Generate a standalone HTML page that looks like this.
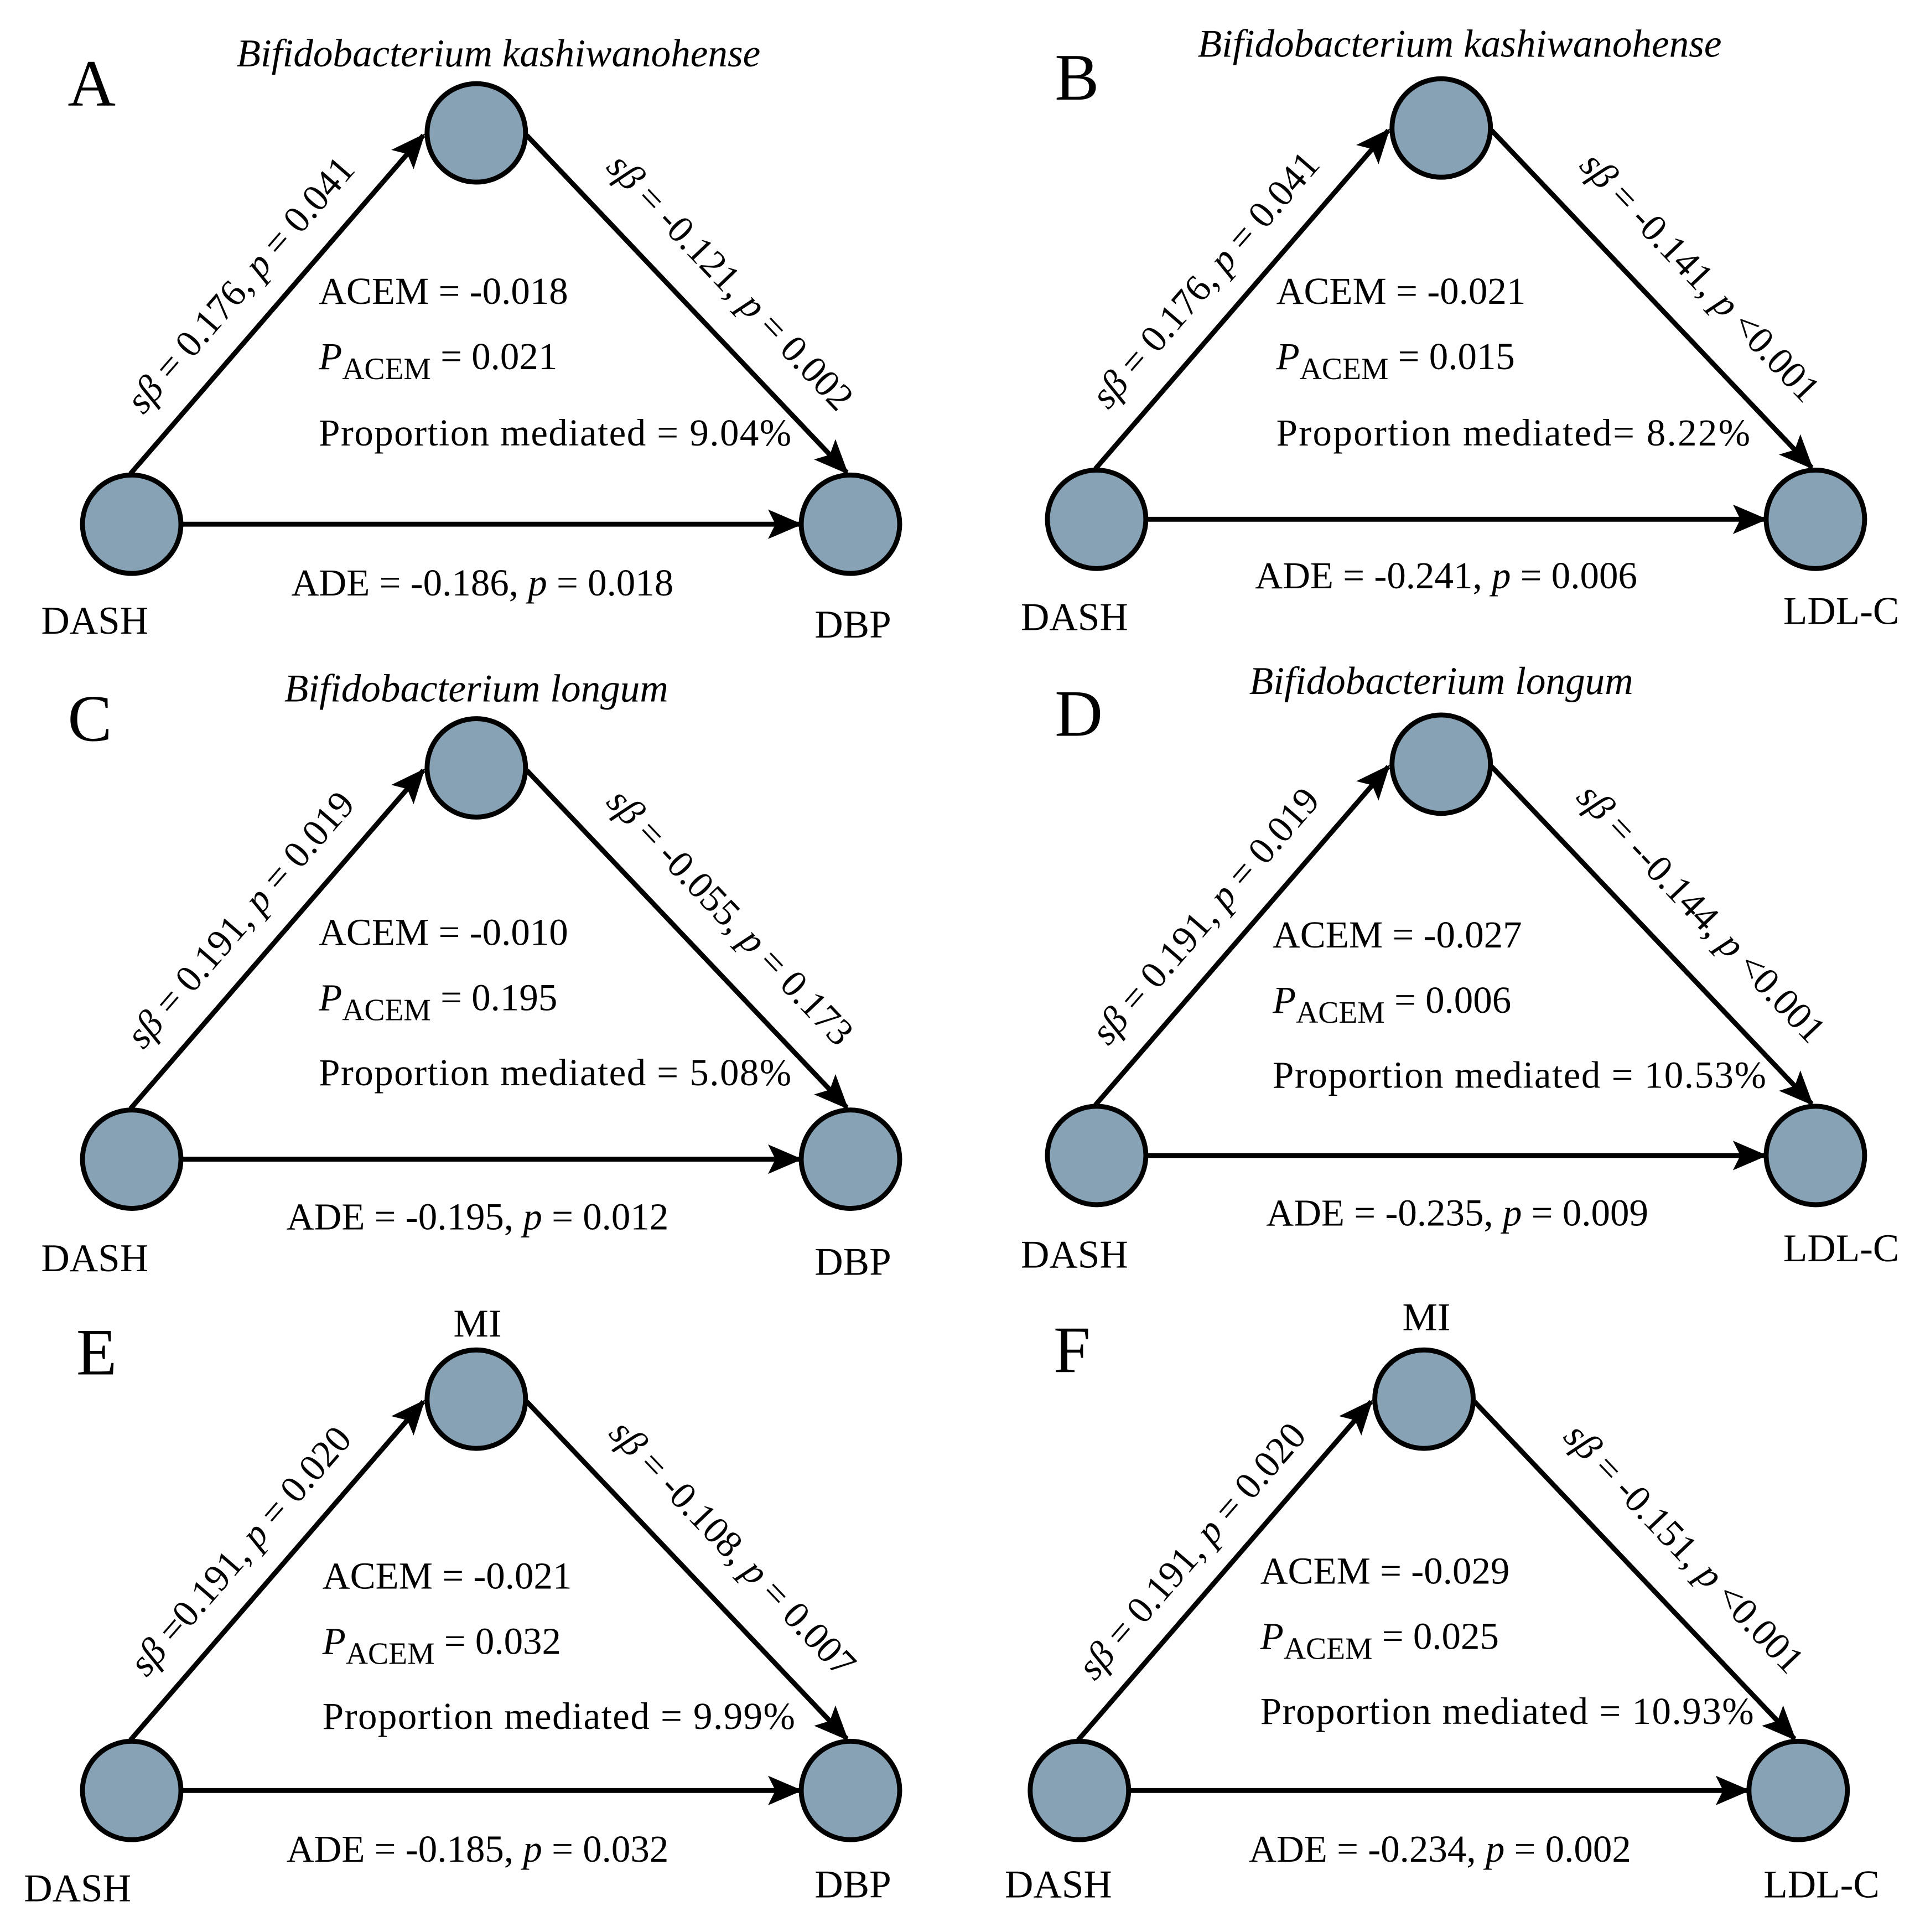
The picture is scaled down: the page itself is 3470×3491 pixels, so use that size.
<!DOCTYPE html>
<html><head><meta charset="utf-8"><style>
html,body{margin:0;padding:0;background:#fff}
svg{display:block}
text{font-family:"Liberation Serif",serif;fill:#000}
</style></head><body>
<svg width="3470" height="3491" viewBox="0 0 1560 1570" preserveAspectRatio="none" xmlns="http://www.w3.org/2000/svg">
<defs>
<marker id="ah" markerUnits="userSpaceOnUse" markerWidth="30" markerHeight="24" refX="26" refY="12" orient="auto">
<path d="M0,0 L28,12 L0,24 L6,12 Z" fill="#000"/>
</marker>
<g id="tri">
<line x1="106" y1="385" x2="344" y2="110" stroke="#000" stroke-width="4" marker-end="url(#ah)"/>
<line x1="428" y1="110" x2="688" y2="384" stroke="#000" stroke-width="4" marker-end="url(#ah)"/>
<line x1="147" y1="426" x2="650" y2="426" stroke="#000" stroke-width="4" marker-end="url(#ah)"/>
<circle cx="387" cy="108" r="40" fill="#87a2b4" stroke="#000" stroke-width="4"/>
<circle cx="107" cy="426" r="40" fill="#87a2b4" stroke="#000" stroke-width="4"/>
<circle cx="691" cy="426" r="40" fill="#87a2b4" stroke="#000" stroke-width="4"/>
</g>
</defs>

<!-- A -->
<g>
<use href="#tri"/>
<text x="55" y="86" font-size="54">A</text>
<text x="405" y="54" font-size="32" font-style="italic" text-anchor="middle">Bifidobacterium kashiwanohense</text>
<text x="203" y="238" font-size="31" text-anchor="middle" transform="rotate(-49 203 238)"><tspan font-style="italic">sβ</tspan> = 0.176, <tspan font-style="italic">p</tspan> = 0.041</text>
<text x="586" y="236" font-size="31" text-anchor="middle" transform="rotate(46.5 586 236)"><tspan font-style="italic">sβ</tspan> = -0.121, <tspan font-style="italic">p</tspan> = 0.002</text>
<text x="259" y="247" font-size="31">ACEM = -0.018</text>
<text x="259" y="300" font-size="31"><tspan font-style="italic">P</tspan><tspan font-size="25" dy="8">ACEM</tspan><tspan dy="-8"> = 0.021</tspan></text>
<text x="259" y="362" font-size="31" textLength="384" lengthAdjust="spacing">Proportion mediated =  9.04%</text>
<text x="392" y="484" font-size="31" text-anchor="middle">ADE = -0.186, <tspan font-style="italic">p</tspan> = 0.018</text>
<text x="77" y="515" font-size="32" text-anchor="middle">DASH</text>
<text x="693" y="518" font-size="32" text-anchor="middle">DBP</text>
</g>

<!-- B -->
<g transform="translate(784,-4)">
<use href="#tri"/>
<text x="73" y="85" font-size="54">B</text>
<text x="402" y="50" font-size="32" font-style="italic" text-anchor="middle">Bifidobacterium kashiwanohense</text>
<text x="203" y="238" font-size="31" text-anchor="middle" transform="rotate(-49 203 238)"><tspan font-style="italic">sβ</tspan> = 0.176, <tspan font-style="italic">p</tspan> = 0.041</text>
<text x="590" y="236" font-size="31" text-anchor="middle" transform="rotate(46.5 590 236)"><tspan font-style="italic">sβ</tspan> = -0.141, <tspan font-style="italic">p</tspan> &lt;0.001</text>
<text x="253" y="251" font-size="31">ACEM = -0.021</text>
<text x="253" y="304" font-size="31"><tspan font-style="italic">P</tspan><tspan font-size="25" dy="8">ACEM</tspan><tspan dy="-8"> = 0.015</tspan></text>
<text x="253" y="366" font-size="31" textLength="385" lengthAdjust="spacing">Proportion  mediated=  8.22%</text>
<text x="391" y="482" font-size="31" text-anchor="middle">ADE = -0.241, <tspan font-style="italic">p</tspan> = 0.006</text>
<text x="89" y="516" font-size="32" text-anchor="middle">DASH</text>
<text x="712" y="511" font-size="32" text-anchor="middle">LDL-C</text>
</g>

<!-- C -->
<g transform="translate(0,516)">
<use href="#tri"/>
<text x="55" y="86" font-size="54">C</text>
<text x="387" y="54" font-size="32" font-style="italic" text-anchor="middle">Bifidobacterium longum</text>
<text x="203" y="238" font-size="31" text-anchor="middle" transform="rotate(-49 203 238)"><tspan font-style="italic">sβ</tspan> = 0.191, <tspan font-style="italic">p</tspan> = 0.019</text>
<text x="586" y="236" font-size="31" text-anchor="middle" transform="rotate(46.5 586 236)"><tspan font-style="italic">sβ</tspan> = -0.055, <tspan font-style="italic">p</tspan> = 0.173</text>
<text x="259" y="252" font-size="31">ACEM = -0.010</text>
<text x="259" y="305" font-size="31"><tspan font-style="italic">P</tspan><tspan font-size="25" dy="8">ACEM</tspan><tspan dy="-8"> = 0.195</tspan></text>
<text x="259" y="366" font-size="31" textLength="384" lengthAdjust="spacing">Proportion mediated =  5.08%</text>
<text x="388" y="483" font-size="31" text-anchor="middle">ADE = -0.195, <tspan font-style="italic">p</tspan> = 0.012</text>
<text x="77" y="517" font-size="32" text-anchor="middle">DASH</text>
<text x="693" y="520" font-size="32" text-anchor="middle">DBP</text>
</g>

<!-- D -->
<g transform="translate(784,513)">
<use href="#tri"/>
<text x="73" y="85" font-size="54">D</text>
<text x="387" y="51" font-size="32" font-style="italic" text-anchor="middle">Bifidobacterium longum</text>
<text x="203" y="238" font-size="31" text-anchor="middle" transform="rotate(-49 203 238)"><tspan font-style="italic">sβ</tspan> = 0.191, <tspan font-style="italic">p</tspan> = 0.019</text>
<text x="591" y="236" font-size="31" text-anchor="middle" transform="rotate(46.5 591 236)"><tspan font-style="italic">sβ</tspan> = --0.144, <tspan font-style="italic">p</tspan> &lt;0.001</text>
<text x="250" y="257" font-size="31">ACEM = -0.027</text>
<text x="250" y="310" font-size="31"><tspan font-style="italic">P</tspan><tspan font-size="25" dy="8">ACEM</tspan><tspan dy="-8"> = 0.006</tspan></text>
<text x="250" y="371" font-size="31" textLength="401" lengthAdjust="spacing">Proportion mediated =  10.53%</text>
<text x="400" y="483" font-size="31" text-anchor="middle">ADE = -0.235, <tspan font-style="italic">p</tspan> = 0.009</text>
<text x="89" y="517" font-size="32" text-anchor="middle">DASH</text>
<text x="712" y="512" font-size="32" text-anchor="middle">LDL-C</text>
</g>

<!-- E -->
<g transform="translate(0,1029)">
<use href="#tri"/>
<text x="62" y="88" font-size="54">E</text>
<text x="388" y="57" font-size="32" text-anchor="middle">MI</text>
<text x="203" y="238" font-size="31" text-anchor="middle" transform="rotate(-49 203 238)"><tspan font-style="italic">sβ</tspan> =0.191, <tspan font-style="italic">p</tspan> = 0.020</text>
<text x="588" y="236" font-size="31" text-anchor="middle" transform="rotate(46.5 588 236)"><tspan font-style="italic">sβ</tspan> = -0.108, <tspan font-style="italic">p</tspan> = 0.007</text>
<text x="262" y="262" font-size="31">ACEM = -0.021</text>
<text x="262" y="315" font-size="31"><tspan font-style="italic">P</tspan><tspan font-size="25" dy="8">ACEM</tspan><tspan dy="-8"> = 0.032</tspan></text>
<text x="262" y="376" font-size="31" textLength="384" lengthAdjust="spacing">Proportion mediated =  9.99%</text>
<text x="388" y="484" font-size="31" text-anchor="middle">ADE = -0.185, <tspan font-style="italic">p</tspan> = 0.032</text>
<text x="63" y="516" font-size="32" text-anchor="middle">DASH</text>
<text x="693" y="513" font-size="32" text-anchor="middle">DBP</text>
</g>

<!-- F -->
<g transform="translate(770,1029)">
<use href="#tri"/>
<text x="86" y="86" font-size="54">F</text>
<text x="389" y="52" font-size="32" text-anchor="middle">MI</text>
<text x="206" y="238" font-size="31" text-anchor="middle" transform="rotate(-49 206 238)"><tspan font-style="italic">sβ</tspan> = 0.191, <tspan font-style="italic">p</tspan> = 0.020</text>
<text x="591" y="236" font-size="31" text-anchor="middle" transform="rotate(46.5 591 236)"><tspan font-style="italic">sβ</tspan> = -0.151, <tspan font-style="italic">p</tspan>  &lt;0.001</text>
<text x="254" y="258" font-size="31">ACEM = -0.029</text>
<text x="254" y="311" font-size="31"><tspan font-style="italic">P</tspan><tspan font-size="25" dy="8">ACEM</tspan><tspan dy="-8"> = 0.025</tspan></text>
<text x="254" y="372" font-size="31" textLength="401" lengthAdjust="spacing">Proportion mediated =  10.93%</text>
<text x="400" y="484" font-size="31" text-anchor="middle">ADE = -0.234, <tspan font-style="italic">p</tspan> = 0.002</text>
<text x="90" y="513" font-size="32" text-anchor="middle">DASH</text>
<text x="710" y="513" font-size="32" text-anchor="middle">LDL-C</text>
</g>
</svg>
</body></html>
